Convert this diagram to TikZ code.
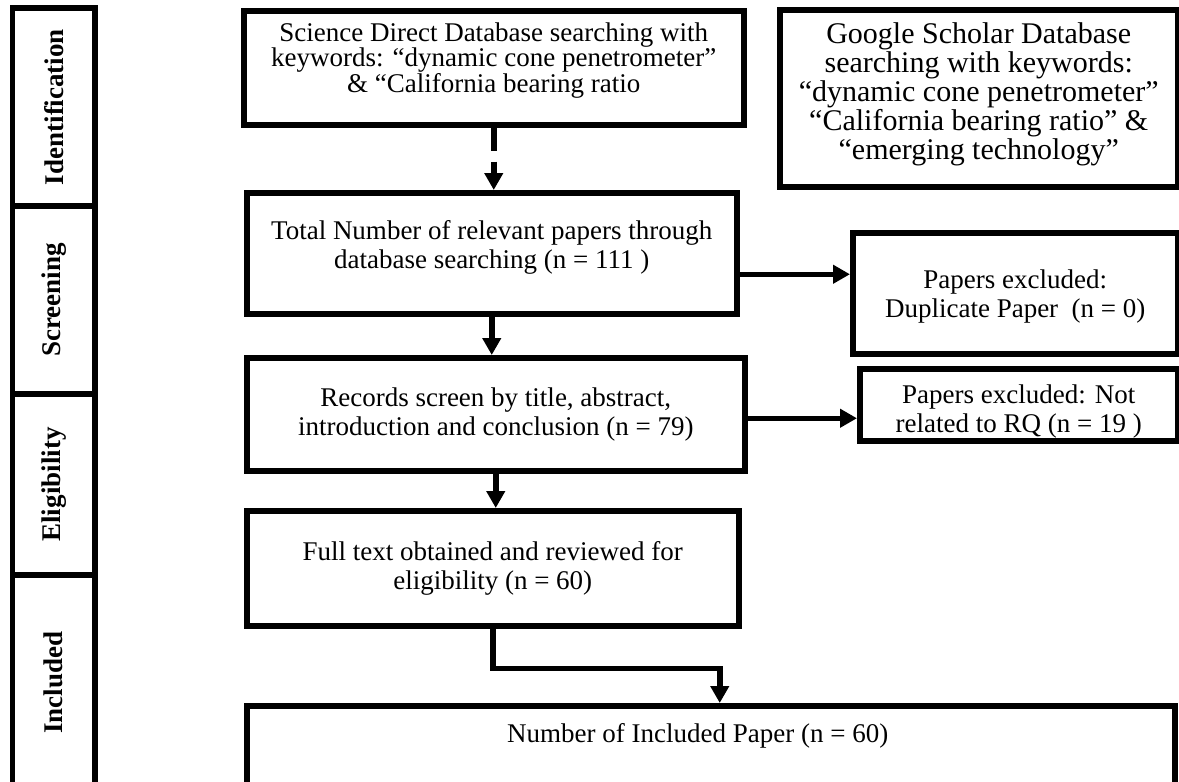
\documentclass[tikz,border=0pt]{standalone}
\usepackage{fontspec}
\setmainfont{Liberation Serif}
\usepackage{tikz}
\usetikzlibrary{arrows.meta}

\begin{document}
\begin{tikzpicture}[x=1pt, y=-1pt, line width=5.5pt, >={Triangle[length=17pt, width=18pt]},
    boite/.style={draw, align=center, anchor=north west, inner sep=0pt, font=\fontsize{27}{29}\selectfont},
    etape/.style={rotate=90, font=\bfseries\fontsize{27}{29}\selectfont}]
    % cadre
    \useasboundingbox (0,0) rectangle (1179,782);
    \clip (0,0) rectangle (1179,782);
    % colonne des étapes
    \draw (12.5,8) rectangle (95,206) node[midway, etape] {Identification};
    \draw (12.5,206) rectangle (95,394) node[midway, etape] {Screening};
    \draw (12.5,394) rectangle (95,575) node[midway, etape] {Eligibility};
    \draw (12.5,575) rectangle (95,790) node[midway, etape] {Included};
    % identification
    \node[boite, minimum width=500pt, minimum height=114pt, font=\fontsize{27}{25.5}\selectfont, text height=69pt, text depth=20pt] (sd) at (241,8) {Science Direct Database searching with\\ keywords: “dynamic cone penetrometer”\\ \& “California bearing ratio};
    \node[boite, minimum width=398pt, minimum height=177pt, font=\fontsize{30}{29}\selectfont, text height=133pt, text depth=11pt] (gs) at (777,7) {Google Scholar Database\\ searching with keywords:\\ “dynamic cone penetrometer”\\ “California bearing ratio” \&\\ “emerging technology”};
    % screening
    \node[boite, minimum width=490pt, minimum height=121pt, text height=47pt, text depth=16pt] (tot) at (244,190) {Total Number of relevant papers through\\ database searching (n = 111 )};
    \node[boite, minimum width=325pt, minimum height=121pt, text height=55pt, text depth=6pt] (dup) at (850,230) {Papers excluded:\\ Duplicate Paper~ (n = 0)};
    % eligibility
    \node[boite, minimum width=498pt, minimum height=113pt] (rec) at (244,355) {Records screen by title, abstract,\\ introduction and conclusion (n = 79)};
    \node[boite, minimum width=318pt, minimum height=72pt, text height=56pt, text depth=1pt] (nr) at (857,366) {Papers excluded: Not\\ related to RQ (n = 19 )};
    \node[boite, minimum width=492pt, minimum height=115pt] (full) at (244,508) {Full text obtained and reviewed for\\ eligibility (n = 60)};
    % included
    \node[boite, minimum width=928pt, text height=17pt, text depth=62pt, inner ysep=20pt] (inc) at (244,703) {Number of Included Paper (n = 60)\hspace*{26pt}};
    % flèches
    \draw[->, dash pattern=on 23pt off 11pt] (sd.south) -- (sd.south |- tot.north);
    \draw[->] (tot.south) -- (tot.south |- rec.north);
    \draw[->] ([yshift=-21pt]tot.east) -- ([yshift=-21pt]tot.east -| dup.west);
    \draw[->] ([yshift=-4pt]rec.east) -- ([yshift=-4pt]rec.east -| nr.west);
    \draw[->] (rec.south) -- (rec.south |- full.north);
    \draw[->] (full.south) -- ++(0,40) -| ([xshift=9pt]inc.north);
\end{tikzpicture}
\end{document}
